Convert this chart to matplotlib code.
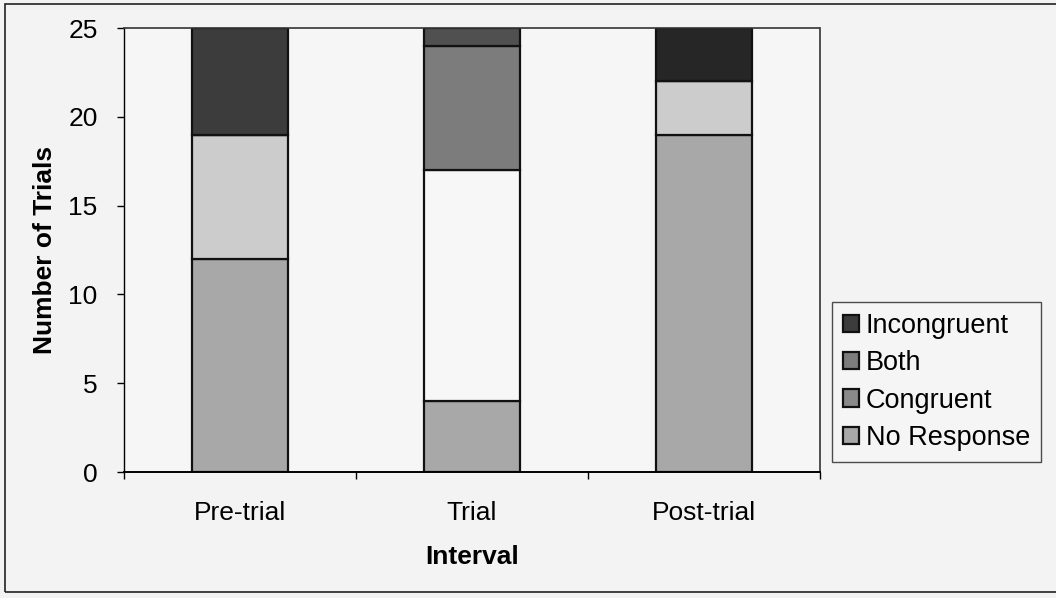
import matplotlib
matplotlib.use("Agg")
import matplotlib.pyplot as plt
from matplotlib.patches import Rectangle
import numpy as np

plt.rcParams['font.family'] = ['Liberation Sans', 'DejaVu Sans']

categories = ["Pre-trial", "Trial", "Post-trial"]
no_response = [12, 4, 19]
congruent = [7, 13, 3]
both = [0, 7, 0]
incongruent = [6, 1, 3]
yticks = [0, 5, 10, 15, 20, 25]

fig = plt.figure(figsize=(10.56, 5.98), dpi=100, facecolor="#f3f3f3")
ax = fig.add_axes([124/1056, 1-472/598, 696/1056, 444/598])
ax.set_facecolor("#f6f6f6")

x = np.arange(len(categories))
w = 0.41
ec = "#111111"
lw = 1.6
b1 = ax.bar(x, no_response, w, color="#a8a8a8", edgecolor=ec, linewidth=lw, label="No Response")
bottom = np.array(no_response)
b2 = ax.bar(x, congruent, w, bottom=bottom, color=["#cccccc", "#f7f7f7", "#cccccc"],
            edgecolor=ec, linewidth=lw, label="Congruent")
bottom = bottom + np.array(congruent)
b3 = ax.bar(x, both, w, bottom=bottom, color="#7c7c7c", edgecolor=ec, linewidth=lw, label="Both")
bottom = bottom + np.array(both)
b4 = ax.bar(x, incongruent, w, bottom=bottom, color=["#3c3c3c", "#505050", "#262626"],
            edgecolor=ec, linewidth=lw, label="Incongruent")

ax.set_xlim(-0.5, 2.5)
ax.set_ylim(0, 25)
ax.set_yticks(yticks)
ax.set_xticks(x)
ax.set_xticklabels(categories)
ax.set_xticks([-0.5, 0.5, 1.5, 2.5], minor=True)
ax.tick_params(axis='x', which='major', length=0, labelsize=19, pad=21)
ax.tick_params(axis='x', which='minor', length=5, direction='out', width=1)
ax.tick_params(axis='y', length=5, direction='out', width=1, labelsize=19, pad=14)

for s in ['top', 'right']:
    ax.spines[s].set_linestyle((0, (1, 1)))
    ax.spines[s].set_linewidth(1.2)
    ax.spines[s].set_color("#333333")
ax.spines['left'].set_linewidth(1.0)
ax.spines['bottom'].set_linewidth(1.4)

ax.set_ylabel("Number of Trials", fontsize=19, fontweight='bold', labelpad=8)
ax.set_xlabel("Interval", fontsize=19, fontweight='bold', labelpad=14)

handles = [b4, b3, b2, b1]
labels = ["Incongruent", "Both", "Congruent", "No Response"]
leg = fig.legend(handles, labels, loc='upper left', bbox_to_anchor=(832/1056, 1-302/598),
                 fontsize=19.5, frameon=True, fancybox=False, edgecolor="#222222",
                 facecolor="#f6f6f6", handlelength=0.6, handleheight=0.6,
                 handletextpad=0.25, borderpad=0.4, labelspacing=0.42, borderaxespad=0)
leg.get_frame().set_linewidth(1.0)
for h, c in zip(leg.legend_handles, ["#3c3c3c", "#7c7c7c", "#8a8a8a", "#a8a8a8"]):
    h.set_facecolor(c)
    h.set_edgecolor("#111111")

fig.patches.append(Rectangle((5/1056, 6/598), 1.0, 1-10/598, transform=fig.transFigure,
                             fill=False, edgecolor="#222222", linewidth=1.2))

fig.savefig("out.png", dpi=100, facecolor=fig.get_facecolor())
